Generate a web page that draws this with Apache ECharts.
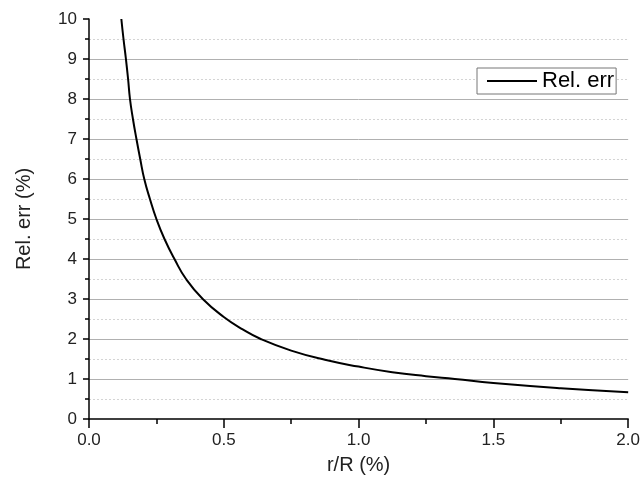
<!DOCTYPE html>
<html>
<head>
<meta charset="utf-8">
<script src="https://cdn.jsdelivr.net/npm/echarts@6/dist/echarts.min.js"></script>
<style>html,body{margin:0;padding:0;background:#fff}#c{width:643px;height:489px}</style>
</head>
<body>
<div id="c"></div>
<script>
var xValues = [0.12, 0.128, 0.137, 0.145, 0.152, 0.163, 0.176, 0.19, 0.205, 0.226, 0.25, 0.28, 0.317, 0.36, 0.422, 0.5, 0.57, 0.637, 0.75, 0.875, 1.0, 1.125, 1.25, 1.357, 1.5, 1.75, 2.0];
var relErr  = [10.0, 9.5, 9.0, 8.5, 8.0, 7.5, 7.0, 6.5, 6.0, 5.5, 5.0, 4.5, 4.0, 3.5, 3.0, 2.55, 2.24, 2.0, 1.71, 1.48, 1.31, 1.17, 1.07, 1.0, 0.9, 0.77, 0.67];
var seriesName = 'Rel. err';
var xName = 'r/R (%)';
var yName = 'Rel. err (%)';

var data = xValues.map(function (x, i) { return [x, relErr[i]]; });
var font = 'Liberation Sans, Arial, sans-serif';
var chart = echarts.init(document.getElementById('c'));
chart.setOption({
  animation: false,
  backgroundColor: '#fff',
  grid: { left: 89, right: 12, top: 19, bottom: 70, containLabel: false },
  legend: {
    left: 477, top: 68,
    data: [seriesName],
    icon: 'rect',
    itemWidth: 50, itemHeight: 2, itemGap: 4,
    padding: [2, 2, 2, 10],
    borderColor: '#777', borderWidth: 1, backgroundColor: '#fff',
    textStyle: { fontFamily: font, fontSize: 22, color: '#000', padding: [0, 0, 0, 0] }
  },
  xAxis: {
    type: 'value', min: 0, max: 2, interval: 0.5,
    name: xName, nameLocation: 'middle', nameGap: 36,
    nameTextStyle: { fontFamily: font, fontSize: 20, color: '#222' },
    axisLine: { show: true, onZero: false, lineStyle: { color: '#000', width: 1.5 } },
    axisTick: { show: true, length: 9, lineStyle: { color: '#000', width: 1.5 } },
    minorTick: { show: true, splitNumber: 2, length: 5, lineStyle: { color: '#000', width: 1.5 } },
    axisLabel: { margin: 13, fontFamily: font, fontSize: 17, color: '#222',
      formatter: function (v) { return v.toFixed(1); } },
    splitLine: { show: false }
  },
  yAxis: {
    type: 'value', min: 0, max: 10, interval: 1,
    name: yName, nameLocation: 'middle', nameGap: 55,
    nameTextStyle: { fontFamily: font, fontSize: 20, color: '#222' },
    axisLine: { show: true, lineStyle: { color: '#000', width: 1.5 } },
    axisTick: { show: true, length: 6, lineStyle: { color: '#000', width: 1.5 } },
    minorTick: { show: true, splitNumber: 2, length: 4, lineStyle: { color: '#000', width: 1.5 } },
    axisLabel: { margin: 12, fontFamily: font, fontSize: 17, color: '#222' },
    splitLine: { show: true, showMaxLine: false, showMinLine: false, lineStyle: { color: '#b0b0b0', width: 1, type: 'solid' } },
    minorSplitLine: { show: true, lineStyle: { color: '#d4d4d4', width: 1, type: [2, 2] } }
  },
  series: [{
    name: seriesName,
    type: 'line',
    data: data,
    showSymbol: false,
    symbol: 'none',
    smooth: 0.5,
    lineStyle: { color: '#000', width: 2 },
    itemStyle: { color: '#000' }
  }]
});
</script>
</body>
</html>
